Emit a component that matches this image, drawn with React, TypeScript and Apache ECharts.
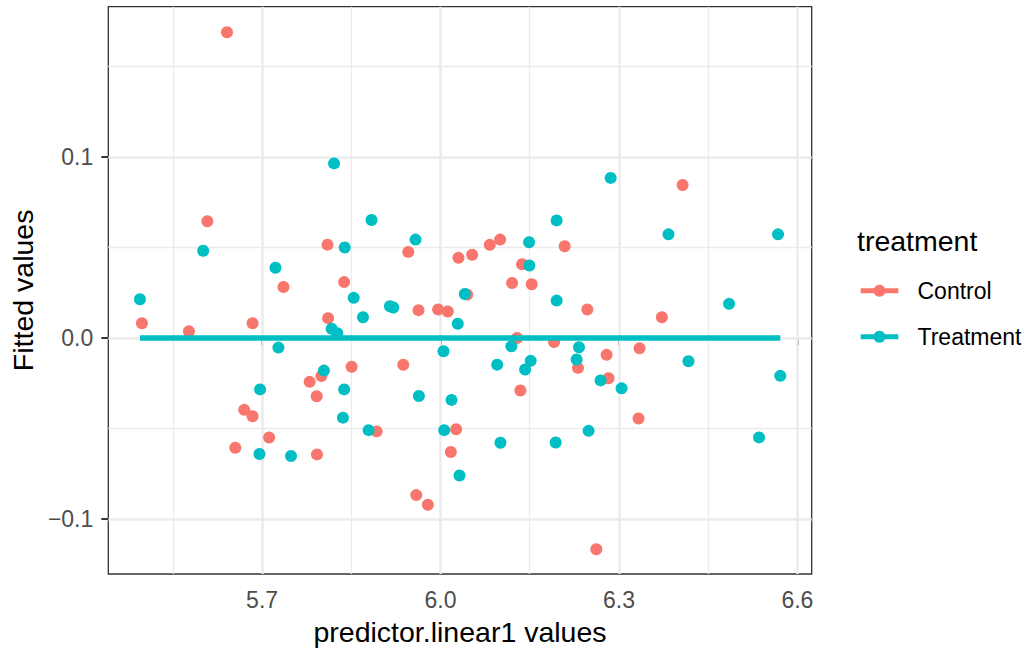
import { useEffect, useRef } from "react";
import * as echarts from "echarts";

// Control group: predictor.linear1 values and fitted values
const controlX = [
  5.641, 6.407, 5.608, 5.498, 5.577, 5.684, 5.736, 5.81, 5.838, 5.811,
  5.8506, 5.7997, 5.78, 5.7918, 5.67, 5.684, 5.7118, 5.655, 5.7923, 5.9458,
  5.963, 5.996, 6.0122, 6.0302, 6.0532, 6.0828, 6.1002, 6.0448, 6.1371, 6.1203,
  6.1533, 6.2087, 6.2468, 6.1287, 6.1909, 6.2311, 5.9374, 6.1343, 5.8926, 6.0263,
  6.0173, 5.9592, 5.9787, 6.2825, 6.3329, 6.2619, 6.3721, 6.3346, 6.2792,
];
const controlY = [
  0.169, 0.0846, 0.0645, 0.0082, 0.0037, 0.0082, 0.0282, 0.0516, 0.0309, 0.011,
  -0.0159, -0.021, -0.0242, -0.0322, -0.0397, -0.0432, -0.055, -0.0606, -0.0643, 0.0476,
  0.0154, 0.0158, 0.0147, 0.0443, 0.046, 0.0515, 0.0544, 0.024, 0.0408, 0.0304,
  0.0297, 0.0507, 0.0158, 0.0, -0.0022, -0.0165, -0.0148, -0.029, -0.0516, -0.0504,
  -0.063, -0.0868, -0.0921, -0.0222, -0.0445, -0.1167, 0.0115, -0.0057, -0.0093,
];

// Treatment group
const treatmentX = [
  5.821, 6.286, 5.601, 5.4947, 5.7225, 5.839, 5.854, 5.817, 5.8266, 5.7275,
  5.804, 5.6966, 5.838, 5.836, 5.6956, 5.7487, 5.884, 5.958, 5.8696, 5.915,
  5.9206, 6.029, 6.0408, 6.1489, 6.1494, 6.1952, 6.1952, 6.005, 6.1192, 6.2328,
  6.2288, 6.1516, 6.1422, 6.0952, 5.9636, 6.0185, 5.8791, 6.0062, 6.0319, 6.1007,
  6.1936, 6.2489, 6.2691, 6.3043, 6.5355, 6.3832, 6.5674, 6.4851, 6.4168, 6.5712,
];
const treatmentY = [
  0.0965, 0.0885, 0.0482, 0.0214, 0.0388, 0.05, 0.0222, 0.0051, 0.0027, -0.0053,
  -0.018, -0.0284, -0.0284, -0.044, -0.0641, -0.0652, 0.0652, 0.0544, 0.0115, 0.0176,
  0.0169, 0.0079, 0.0243, 0.0529, 0.0401, 0.065, 0.0207, -0.0073, -0.0046, -0.0051,
  -0.0119, -0.0126, -0.0174, -0.0147, -0.032, -0.0342, -0.0509, -0.0509, -0.076, -0.0579,
  -0.0577, -0.0513, -0.0234, -0.0278, -0.0549, 0.0573, 0.0573, 0.0189, -0.0128, -0.0209,
];

// Level of the fitted (flat) smoother for each group
const controlFitLevel = 0;
const treatmentFitLevel = 0;

// Axis extents and ticks
const xRange = [5.4415, 6.624];
const yRange = [-0.1304, 0.1831];
const xMajorTicks = [5.7, 6.0, 6.3, 6.6];
const xMinorTicks = [5.55, 5.85, 6.15, 6.45];
const yMajorTicks = [-0.1, 0, 0.1];
const yMinorTicks = [-0.05, 0.05, 0.15];

const groupNames = ["Control", "Treatment"];
const CONTROL_COLOR = "#F8766D";
const TREATMENT_COLOR = "#00BFC4";
const FONT = "'Liberation Sans', Arial, sans-serif";

const zip = (xs: number[], ys: number[]) => xs.map((x, i) => [x, ys[i]]);
const fitSegment = (xs: number[], level: number) => [
  [Math.min(...xs), level],
  [Math.max(...xs), level],
];

export default function App() {
  const ref = useRef<HTMLDivElement>(null);

  useEffect(() => {
    if (!ref.current) return;
    const chart = echarts.init(ref.current, null, { renderer: "svg" });

    const gridColor = "#EBEBEB";
    const minorStyle = { width: 1.3, color: gridColor, type: "solid" };
    const majorStyle = { width: 2.5, color: gridColor, type: "solid" };
    const gridLines = [
      ...xMinorTicks.map((v) => ({ xAxis: v, lineStyle: minorStyle })),
      ...yMinorTicks.map((v) => ({ yAxis: v, lineStyle: minorStyle })),
      ...xMajorTicks.map((v) => ({ xAxis: v, lineStyle: majorStyle })),
      ...yMajorTicks.map((v) => ({ yAxis: v, lineStyle: majorStyle })),
    ];

    const legendRows = [
      { name: groupNames[0], color: CONTROL_COLOR, y: 290.7 },
      { name: groupNames[1], color: TREATMENT_COLOR, y: 336.7 },
    ];

    chart.setOption({
      animation: false,
      backgroundColor: "#FFFFFF",
      grid: {
        left: 107.3,
        top: 6.7,
        width: 704.4,
        height: 570.6,
        show: true,
        backgroundColor: "#FFFFFF",
        borderColor: "#333333",
        borderWidth: 1.3,
        containLabel: false,
      },
      xAxis: {
        type: "value",
        min: xRange[0],
        max: xRange[1],
        name: "predictor.linear1 values",
        nameLocation: "middle",
        nameGap: 43,
        nameTextStyle: { fontFamily: FONT, fontSize: 28.5, color: "#000000" },
        axisLine: { show: false },
        splitLine: { show: false },
        axisTick: {
          show: true,
          length: 7,
          customValues: xMajorTicks,
          lineStyle: { color: "#333333", width: 2 },
        },
        axisLabel: {
          customValues: xMajorTicks,
          margin: 14.5,
          fontFamily: FONT,
          fontSize: 23,
          color: "#4D4D4D",
          formatter: (v: number) => v.toFixed(1),
        },
      },
      yAxis: {
        type: "value",
        min: yRange[0],
        max: yRange[1],
        name: "Fitted values",
        nameLocation: "middle",
        nameGap: 63,
        nameRotate: 90,
        nameTextStyle: { fontFamily: FONT, fontSize: 28.5, color: "#000000" },
        axisLine: { show: false },
        splitLine: { show: false },
        axisTick: {
          show: true,
          length: 7,
          customValues: yMajorTicks,
          lineStyle: { color: "#333333", width: 2 },
        },
        axisLabel: {
          customValues: yMajorTicks,
          margin: 15,
          fontFamily: FONT,
          fontSize: 23,
          color: "#4D4D4D",
          formatter: (v: number) => v.toFixed(1).replace("-", "\u2212"),
        },
      },
      series: [
        {
          type: "line",
          name: "grid",
          data: [],
          z: 1,
          silent: true,
          markLine: {
            silent: true,
            symbol: ["none", "none"],
            label: { show: false },
            emphasis: { disabled: true },
            animation: false,
            data: gridLines,
          },
        },
        {
          type: "scatter",
          name: groupNames[0],
          data: zip(controlX, controlY),
          symbol: "circle",
          symbolSize: 12,
          itemStyle: { color: CONTROL_COLOR, opacity: 1 },
          emphasis: { disabled: true },
          z: 10,
        },
        {
          type: "scatter",
          name: groupNames[1],
          data: zip(treatmentX, treatmentY),
          symbol: "circle",
          symbolSize: 12,
          itemStyle: { color: TREATMENT_COLOR, opacity: 1 },
          emphasis: { disabled: true },
          z: 11,
        },
        {
          // Control smoother sits underneath the treatment one
          type: "line",
          name: groupNames[0] + " fit",
          data: fitSegment(controlX, controlFitLevel),
          showSymbol: false,
          lineStyle: { color: CONTROL_COLOR, width: 2.5 },
          emphasis: { disabled: true },
          z: 12,
        },
        {
          type: "line",
          name: groupNames[1] + " fit",
          data: fitSegment(treatmentX, treatmentFitLevel),
          showSymbol: false,
          lineStyle: { color: TREATMENT_COLOR, width: 5.4 },
          emphasis: { disabled: true },
          z: 13,
        },
      ],
      graphic: [
        {
          type: "text",
          left: 857,
          top: 241.7 - 15,
          style: { text: "treatment", font: `28.5px ${FONT}`, fill: "#000000" },
        },
        ...legendRows.flatMap((r) => [
          {
            type: "line",
            shape: { x1: 860.7, y1: r.y, x2: 898.3, y2: r.y },
            style: { stroke: r.color, lineWidth: 5 },
          },
          {
            type: "circle",
            shape: { cx: 879.5, cy: r.y, r: 6 },
            style: { fill: r.color },
          },
          {
            type: "text",
            x: 917.5,
            y: r.y,
            style: {
              text: r.name,
              font: `23px ${FONT}`,
              fill: "#000000",
              textVerticalAlign: "middle",
              verticalAlign: "middle",
            },
          },
        ]),
      ],
    });

    return () => chart.dispose();
  }, []);

  return (
    <div
      ref={ref}
      style={{ position: "absolute", left: 0, top: 0, width: 1029, height: 651 }}
    />
  );
}
